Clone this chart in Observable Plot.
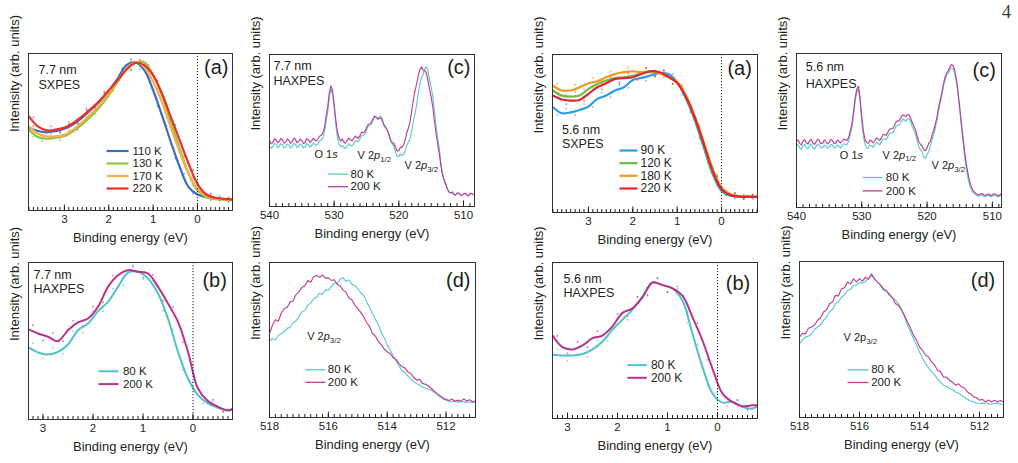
<!DOCTYPE html>
<html>
<head>
<meta charset="utf-8">
<script src="https://cdn.jsdelivr.net/npm/d3@7"></script>
<script src="https://cdn.jsdelivr.net/npm/@observablehq/plot@0.6"></script>
<style>
  body { margin: 0; background: #fff; }
  #fig { position: relative; width: 1018px; height: 463px; overflow: hidden; background: #fff; }
  #page { position: absolute; left: 1002px; top: 3px; font: 18px "Liberation Serif", "DejaVu Serif", serif; color: #3a3a3a; line-height: 1; }
</style>
</head>
<body>
<div id="fig"><div id="page">4</div></div>
<script>
// ---------- energies (eV) ----------
const eVal = [3.8, 3.6, 3.4, 3.2, 3.0, 2.8, 2.6, 2.4, 2.2, 2.0, 1.8, 1.6, 1.4, 1.2, 1.0, 0.8, 0.6, 0.4, 0.2, 0.0, -0.2, -0.4, -0.6, -0.8];
const eValRaw = [3.7, 3.5, 3.3, 3.1, 2.9, 2.7, 2.5, 2.3, 2.1, 1.9, 1.7, 1.5, 1.3, 1.1, 0.9, 0.7, 0.5, 0.3, 0.1, -0.1, -0.3, -0.5, -0.7];
const eValH = [3.3, 3.1, 2.9, 2.7, 2.5, 2.3, 2.1, 1.9, 1.7, 1.5, 1.3, 1.1, 0.9, 0.7, 0.5, 0.3, 0.1, -0.1, -0.3, -0.5, -0.7, -0.8];
const eValHRaw = [3.2, 3.0, 2.8, 2.6, 2.4, 2.2, 2.0, 1.8, 1.6, 1.4, 1.2, 1.0, 0.8, 0.6, 0.4, 0.2, 0.0, -0.2, -0.4, -0.6];
const eWide = [540, 539.5, 539, 538.5, 538, 537.5, 537, 536.5, 536, 535.5, 535, 534.5, 534, 533.5, 533, 532.5, 532, 531.5, 531, 530.5,
  530, 529.5, 529, 528.5, 528, 527.5, 527, 526.5, 526, 525.5, 525, 524.5, 524, 523.5, 523, 522.5, 522, 521.5, 521, 520.5,
  520, 519.5, 519, 518.5, 518, 517.5, 517, 516.5, 516, 515.5, 515, 514.5, 514, 513.5, 513, 512.5, 512, 511.5, 511, 510.5,
  510, 509.5, 509, 508.5];
const eWideMid = [539.75, 539.25, 538.75, 538.25, 537.75, 537.25, 536.75, 536.25, 535.75, 535.25, 534.75, 534.25, 533.75, 533.25, 532.75, 532.25,
  531.75, 531.25, 530.75, 530.25, 529.75, 529.25, 528.75, 528.25, 527.75, 527.25, 526.75, 526.25, 525.75, 525.25, 524.75, 524.25,
  523.75, 523.25, 522.75, 522.25, 521.75, 521.25, 520.75, 520.25, 519.75, 519.25, 518.75, 518.25, 517.75, 517.25, 516.75, 516.25,
  515.75, 515.25, 514.75, 514.25, 513.75, 513.25, 512.75, 512.25, 511.75, 511.25, 510.75, 510.25, 509.75, 509.25, 508.75];
const eV2p = [518.0, 517.9, 517.8, 517.7, 517.6, 517.5, 517.4, 517.3, 517.2, 517.1, 517.0, 516.9, 516.8, 516.7, 516.6, 516.5, 516.4, 516.3, 516.2, 516.1,
  516.0, 515.9, 515.8, 515.7, 515.6, 515.5, 515.4, 515.3, 515.2, 515.1, 515.0, 514.9, 514.8, 514.7, 514.6, 514.5, 514.4, 514.3, 514.2, 514.1,
  514.0, 513.9, 513.8, 513.7, 513.6, 513.5, 513.4, 513.3, 513.2, 513.1, 513.0, 512.9, 512.8, 512.7, 512.6, 512.5, 512.4, 512.3, 512.2, 512.1,
  512.0, 511.9, 511.8, 511.7, 511.6, 511.5, 511.4, 511.3, 511.2, 511.1, 511.0];

// ---------- 7.7 nm film ----------
// SXPES valence band: smoothed curves
const sx77_110K = [52.8, 50.6, 49.8, 50.6, 52.1, 54.9, 59.1, 64.3, 69.8, 76.2, 84.0, 92.6, 94.5, 89.4, 76.6, 60.6, 43.6, 27.7, 14.9, 10.2, 8.5, 7.7, 7.2, 6.8];
const sx77_130K = [51.5, 46.8, 45.7, 46.4, 47.4, 50.6, 54.9, 60.0, 66.0, 73.4, 81.9, 89.8, 94.0, 94.5, 86.2, 73.4, 56.4, 39.4, 23.4, 12.8, 8.5, 7.2, 6.8, 6.4];
const sx77_170K = [53.6, 48.9, 47.2, 47.2, 48.3, 51.5, 56.2, 61.7, 67.4, 74.5, 82.6, 90.2, 94.5, 91.5, 81.9, 69.1, 52.8, 37.2, 23.4, 13.8, 9.4, 7.7, 7.0, 6.6];
const sx77_220K = [60.0, 53.6, 51.0, 51.5, 52.8, 55.7, 60.0, 64.9, 70.2, 76.6, 83.0, 89.8, 94.0, 92.6, 86.2, 74.5, 59.6, 44.7, 29.8, 17.0, 10.2, 8.1, 7.4, 7.0];
// SXPES valence band: raw points
const sx77_110K_raw = [53.9, 48.1, 51.5, 49.6, 55.2, 55.3, 63.9, 65.0, 74.8, 78.0, 90.5, 96.4, 90.1, 85.2, 66.3, 54.0, 33.2, 23.5, 10.9, 11.3, 6.9, 9.0, 5.8];
const sx77_130K_raw = [47.0, 44.1, 48.3, 44.8, 50.9, 51.0, 59.6, 61.2, 71.8, 75.9, 88.0, 95.3, 92.1, 92.8, 77.5, 67.2, 45.6, 33.8, 15.9, 12.6, 6.3, 8.4, 5.5];
const sx77_170K_raw = [53.4, 46.0, 49.5, 45.9, 52.0, 52.1, 61.3, 62.7, 73.2, 76.4, 88.9, 90.1, 95.5, 84.4, 77.8, 58.9, 47.2, 28.1, 20.7, 9.8, 10.2, 6.1, 8.0];
const sx77_220K_raw = [59.3, 50.0, 53.6, 50.1, 56.5, 55.6, 64.9, 65.3, 75.7, 77.4, 88.7, 89.5, 96.0, 87.0, 82.8, 64.8, 54.6, 35.0, 25.7, 11.5, 10.9, 6.4, 8.3];
// HAXPES valence band: smoothed curves and raw points
const hx77_80K = [46.3, 42.7, 41.4, 43.1, 47.8, 56.9, 61.1, 69.0, 74.9, 84.5, 93.6, 94.1, 89.8, 80.3, 64.3, 43.1, 26.1, 15.5, 10.2, 7.4, 5.7, 6.6];
const hx77_200K = [57.5, 54.8, 52.7, 49.9, 56.9, 61.8, 64.3, 71.8, 84.5, 91.9, 95.1, 94.1, 93.0, 84.5, 73.9, 62.2, 43.1, 19.7, 11.7, 8.1, 5.9, 7.0];
const hx77_80K_raw = [48.6, 38.9, 45.7, 41.8, 56.3, 55.1, 68.9, 69.0, 83.4, 85.5, 97.0, 89.2, 88.4, 69.1, 57.2, 31.4, 23.9, 10.3, 11.6, 4.8];
const hx77_200K_raw = [60.1, 50.4, 55.0, 49.9, 63.0, 59.8, 71.9, 74.6, 91.7, 90.2, 98.0, 90.5, 92.1, 75.8, 71.6, 49.3, 34.9, 12.5, 12.7, 5.1];
// HAXPES O 1s / V 2p core levels (half-eV points and the points between them)
const cl77_80K = [40.2, 39.1, 40.8, 39.6, 40.5, 39.0, 40.3, 39.4, 40.9, 39.5, 40.2, 39.2, 40.6, 40.0, 40.8, 41.4, 43.8, 48.9, 62.0, 77.2,
  65.0, 45.3, 39.4, 38.8, 39.6, 40.2, 41.2, 42.9, 44.6, 46.8, 50.1, 53.4, 56.6, 58.8, 59.3, 56.7, 52.3, 46.4, 41.0, 35.7,
  32.8, 33.6, 36.9, 42.4, 50.0, 60.9, 74.2, 85.0, 90.4, 89.6, 78.5, 63.2, 45.2, 29.0, 18.1, 11.4, 8.7, 8.0, 8.5, 7.9,
  8.3, 7.6, 8.2, 7.8];
const cl77_80K_mid = [38.3, 41.6, 38.8, 41.4, 38.6, 41.1, 38.5, 41.5, 38.9, 41.2, 38.6, 41.3, 39.1, 41.7, 40.2, 43.0,
  45.1, 55.9, 71.8, 74.0, 53.8, 41.1, 40.2, 38.0, 41.3, 39.8, 43.2, 42.6, 46.7, 47.5, 52.8, 54.1,
  58.9, 57.6, 59.2, 53.5, 50.1, 42.8, 39.2, 33.1, 34.5, 34.2, 40.6, 45.0, 56.3, 66.9, 80.8, 86.6,
  91.8, 83.0, 72.4, 53.1, 38.4, 22.0, 15.5, 9.4, 9.2, 7.3, 8.9, 7.2, 8.6, 7.1, 8.5];
const cl77_200K = [43.5, 42.0, 44.1, 42.8, 43.9, 42.3, 43.6, 42.5, 44.2, 42.9, 43.4, 42.1, 44.0, 43.1, 43.9, 44.6, 46.8, 52.0, 65.5, 79.4,
  67.2, 49.5, 43.0, 42.4, 43.5, 43.9, 44.6, 45.3, 46.8, 48.6, 51.8, 54.5, 57.6, 58.9, 58.0, 55.6, 51.5, 46.9, 42.1, 38.7,
  36.9, 38.9, 44.3, 51.9, 63.1, 76.0, 86.0, 91.8, 89.4, 83.0, 71.9, 56.4, 41.3, 26.9, 17.0, 11.5, 9.0, 8.1, 8.9, 7.6,
  8.4, 7.5, 8.6, 7.9];
const cl77_200K_mid = [41.2, 44.6, 41.9, 44.8, 41.7, 44.5, 41.6, 44.9, 41.9, 44.3, 41.5, 44.6, 42.2, 44.8, 43.1, 46.2,
  48.4, 59.5, 74.6, 76.3, 57.1, 45.2, 44.4, 41.6, 45.0, 43.2, 46.3, 45.0, 48.9, 49.2, 54.0, 55.3,
  59.6, 57.4, 58.3, 52.9, 50.0, 43.6, 41.3, 36.5, 38.9, 40.6, 48.7, 56.2, 70.4, 80.6, 90.3, 89.6,
  88.1, 77.0, 65.3, 48.2, 34.8, 20.8, 14.6, 9.7, 9.6, 7.4, 8.9, 7.1, 8.7, 7.0, 8.6];
// HAXPES V 2p3/2 detail
const v2p77_80K = [49.2, 51.0, 50.1, 52.9, 54.0, 55.3, 57.5, 58.2, 61.0, 62.4, 64.9, 68.2, 69.0, 72.5, 73.8, 76.8, 77.5, 80.2, 79.4, 82.6,
  82.2, 84.5, 86.9, 86.2, 89.3, 90.1, 88.0, 88.7, 85.9, 85.1, 83.2, 80.5, 78.9, 74.6, 71.2, 67.1, 63.4, 59.9, 54.8, 51.2,
  46.7, 43.5, 39.8, 36.6, 33.0, 30.5, 28.9, 26.8, 25.1, 23.0, 21.9, 21.0, 19.5, 19.0, 18.2, 17.6, 16.1, 15.0, 13.2, 12.0,
  11.2, 10.4, 10.0, 10.6, 9.9, 10.1, 10.3, 9.6, 10.2, 9.5, 9.7];
const v2p77_200K = [54.2, 59.5, 63.0, 62.1, 67.4, 70.3, 71.0, 74.6, 75.2, 79.3, 81.1, 83.8, 85.0, 88.4, 87.3, 90.8, 91.6, 90.4, 91.9, 89.9,
  90.1, 88.5, 88.9, 86.0, 84.9, 82.2, 80.8, 77.1, 76.0, 72.4, 70.3, 67.8, 65.0, 61.3, 58.6, 54.2, 52.5, 48.9, 47.0, 44.1,
  42.4, 41.3, 38.6, 37.5, 34.8, 32.7, 32.0, 29.3, 28.5, 25.8, 24.1, 24.6, 22.0, 21.4, 20.3, 18.7, 17.0, 15.2, 14.1, 12.5,
  11.8, 11.0, 11.9, 10.3, 11.2, 10.5, 12.0, 10.6, 11.4, 10.2, 10.8];

// ---------- 5.6 nm film ----------
const sx56_90K = [66.6, 62.8, 63.4, 64.9, 67.0, 71.9, 74.0, 77.2, 79.3, 83.9, 85.2, 86.7, 88.2, 87.7, 82.5, 71.9, 58.1, 41.2, 24.3, 13.7, 10.6, 9.9, 9.9, 9.9];
const sx56_120K = [77.2, 74.0, 73.4, 74.0, 78.2, 81.4, 83.5, 85.0, 85.6, 86.5, 88.2, 88.8, 88.2, 86.0, 82.5, 72.9, 59.2, 42.3, 25.4, 14.8, 11.2, 10.4, 10.1, 9.9];
const sx56_180K = [80.3, 77.2, 77.2, 79.3, 81.8, 83.1, 85.6, 87.7, 88.8, 89.4, 88.8, 89.4, 88.2, 85.6, 82.5, 74.0, 60.7, 44.4, 27.5, 15.9, 11.6, 10.4, 9.9, 9.9];
const sx56_220K = [74.0, 71.5, 70.8, 71.2, 75.1, 79.3, 81.8, 84.6, 85.0, 85.6, 87.7, 89.4, 88.8, 86.0, 82.0, 72.9, 59.8, 43.3, 26.4, 14.8, 11.0, 10.1, 9.9, 9.9];
const sx56_90K_raw = [61.9, 65.8, 61.5, 68.7, 66.8, 75.9, 72.9, 81.0, 79.0, 87.3, 83.3, 90.1, 85.6, 87.8, 74.6, 67.4, 47.0, 35.2, 16.8, 13.9, 8.9, 11.3, 8.7];
const sx56_120K_raw = [78.4, 71.0, 76.5, 73.4, 82.6, 79.7, 87.1, 82.5, 88.9, 84.6, 91.3, 85.8, 89.9, 81.6, 80.4, 63.4, 53.5, 31.2, 22.8, 11.3, 12.4, 8.8, 11.4];
const sx56_180K_raw = [81.5, 74.6, 80.9, 77.9, 85.1, 81.8, 89.3, 85.7, 91.8, 86.5, 91.7, 86.2, 89.5, 81.5, 80.9, 64.8, 55.2, 33.4, 24.3, 12.1, 12.6, 8.7, 11.2];
const sx56_220K_raw = [75.5, 68.6, 73.6, 70.5, 79.9, 77.9, 85.8, 82.1, 88.0, 84.0, 91.3, 86.4, 90.1, 81.3, 79.8, 63.7, 54.3, 32.2, 23.0, 11.0, 12.1, 8.6, 11.3];
const hx56_80K = [40.9, 40.4, 40.4, 41.3, 44.3, 49.4, 57.0, 63.4, 69.8, 78.3, 87.2, 85.5, 83.4, 75.5, 54.3, 33.0, 16.0, 10.2, 10.6, 7.4, 6.4, 8.1];
const hx56_200K = [53.2, 45.7, 44.3, 46.8, 51.5, 53.2, 59.1, 67.7, 70.6, 77.7, 87.2, 85.5, 83.4, 78.7, 64.9, 50.0, 31.9, 16.0, 10.6, 7.9, 8.5, 8.5];
const hx56_80K_raw = [44.2, 37.1, 44.6, 39.5, 50.5, 49.8, 63.9, 63.3, 77.8, 79.4, 90.0, 81.1, 83.1, 61.5, 47.4, 21.2, 16.5, 7.8, 11.6, 4.9];
const hx56_200K_raw = [53.0, 41.8, 49.2, 45.7, 56.0, 52.6, 67.1, 65.6, 78.0, 78.8, 89.9, 81.0, 84.7, 68.2, 61.3, 37.6, 27.4, 10.6, 11.9, 6.0];
const cl56_80K = [39.9, 38.6, 40.3, 39.0, 40.4, 38.8, 39.7, 40.5, 38.9, 39.9, 39.2, 40.6, 38.8, 40.0, 40.2, 40.9, 43.5, 51.7, 69.6, 76.5,
  55.4, 40.9, 38.7, 40.2, 40.9, 41.7, 42.8, 44.6, 46.1, 48.3, 50.4, 53.3, 55.4, 57.0, 57.4, 55.4, 50.0, 43.0, 37.4, 32.6,
  34.3, 39.6, 47.4, 56.5, 67.4, 78.3, 85.9, 89.6, 90.0, 81.5, 63.0, 42.4, 25.0, 14.8, 9.8, 8.3, 7.5, 8.0, 7.2, 7.9,
  7.3, 8.1, 7.1, 7.7];
const cl56_80K_mid = [40.8, 37.7, 41.0, 38.2, 41.1, 38.0, 41.2, 38.6, 40.5, 38.4, 41.0, 38.7, 40.6, 38.6, 41.5, 40.8,
  47.9, 60.3, 74.9, 68.0, 46.2, 38.5, 40.6, 39.1, 42.3, 40.6, 44.5, 44.0, 48.1, 48.6, 52.8, 53.6,
  57.2, 55.9, 57.5, 52.1, 47.4, 39.2, 36.0, 32.1, 36.3, 43.9, 51.3, 62.5, 72.3, 83.1, 87.2, 90.8,
  86.6, 73.1, 52.9, 33.2, 19.4, 12.1, 9.2, 7.5, 8.2, 7.0, 7.9, 6.9, 8.0, 7.0, 7.9];
const cl56_200K = [42.8, 41.5, 43.2, 42.0, 43.5, 41.9, 42.6, 43.4, 41.8, 42.9, 42.2, 43.6, 41.7, 43.0, 43.0, 43.9, 45.7, 54.3, 71.7, 78.7,
  58.7, 43.9, 41.7, 43.0, 43.5, 44.6, 45.2, 47.4, 48.9, 51.1, 53.3, 56.1, 58.3, 59.8, 60.4, 57.6, 52.6, 46.1, 40.9, 37.4,
  38.7, 43.0, 50.0, 58.3, 69.6, 80.0, 87.4, 91.3, 92.2, 83.0, 65.2, 45.7, 28.7, 17.4, 11.3, 9.1, 8.3, 8.9, 7.9, 8.6,
  8.0, 8.8, 7.8, 8.4];
const cl56_200K_mid = [43.9, 40.7, 44.1, 41.3, 44.2, 41.0, 44.3, 41.4, 43.9, 41.2, 44.3, 41.6, 43.8, 41.9, 44.5, 43.6,
  50.3, 62.9, 77.0, 70.5, 49.6, 42.0, 43.8, 41.9, 45.2, 43.6, 47.4, 46.8, 50.9, 51.3, 55.6, 56.4,
  60.2, 59.0, 60.1, 54.9, 50.3, 42.7, 39.8, 36.9, 41.6, 47.0, 53.9, 64.8, 74.4, 84.6, 88.8, 92.9,
  88.8, 75.2, 55.0, 36.8, 22.4, 14.0, 10.1, 8.2, 9.0, 8.0, 8.7, 7.8, 8.9, 7.7, 8.6];
const v2p56_80K = [47.3, 49.8, 51.6, 52.1, 53.7, 56.4, 58.0, 59.5, 62.3, 64.4, 67.6, 69.3, 72.9, 74.2, 77.2, 78.6, 81.4, 82.1, 84.6, 84.9,
  86.8, 86.0, 87.2, 89.5, 91.0, 88.4, 86.8, 84.7, 81.4, 80.9, 79.3, 77.0, 75.1, 72.8, 69.7, 64.6, 59.1, 54.9, 50.5, 46.4,
  42.0, 38.0, 34.5, 31.9, 29.2, 27.3, 24.9, 22.6, 20.7, 19.9, 18.6, 17.8, 16.4, 15.6, 14.3, 13.0, 11.7, 10.6, 10.0, 9.3,
  9.0, 9.4, 9.0, 8.7, 8.5, 9.2, 9.0, 8.4, 8.5, 8.9, 8.6];
const v2p56_200K = [51.6, 53.9, 53.7, 57.2, 58.0, 59.1, 62.3, 63.8, 67.6, 69.0, 72.9, 74.1, 78.3, 78.0, 82.5, 83.1, 86.8, 85.6, 88.9, 86.9,
  88.9, 87.4, 90.0, 88.6, 92.1, 89.1, 86.8, 85.0, 82.5, 81.2, 78.3, 76.7, 72.9, 71.9, 68.7, 65.4, 61.2, 57.3, 52.7, 49.6,
  45.2, 43.1, 39.9, 38.9, 35.6, 33.7, 30.3, 29.4, 26.0, 25.8, 23.9, 22.6, 20.7, 21.6, 19.6, 18.9, 16.4, 15.3, 13.2, 12.8,
  11.1, 11.6, 10.0, 11.2, 10.0, 11.0, 10.0, 10.9, 10.0, 10.6, 10.2];

// ---------- tick labels and legend text ----------
const ticksValence = [3, 2, 1, 0];
const ticksWide = [540, 530, 520, 510];
const ticksV2p = [518, 516, 514, 512];
const temps77 = ["110 K", "130 K", "170 K", "220 K"];
const temps56 = ["90 K", "120 K", "180 K", "220 K"];
const tempsHx = ["80 K", "200 K"];
const xTitle = "Binding energy (eV)";
const yTitleSX = "Intenisity (arb. units)";
const yTitle = "Intensity (arb. units)";

// ---------- styling ----------
const ink = "#231f20";
const font = "'Liberation Sans', Arial, Helvetica, sans-serif";
const col77 = ["#3b6cc0", "#8cc63f", "#f8ad50", "#e8322b"];
const col56 = ["#2b9de1", "#6bbb45", "#f7961e", "#e3262c"];
const cyan = "#5ec8d1", magenta = "#bf3f98";
const cyanB = "#4fc3cc", magentaB = "#b8338e";
const minorValence = d3.range(-8, 39).map(i => i / 10);
const minorWide = d3.range(508, 541);
const minorV2p = d3.range(5110, 5182, 2).map(i => i / 10);

// interleave two sampled series into one, ordered by decreasing energy
function interleave(g1, v1, g2, v2) {
  const pts = g1.map((e, i) => [e, v1[i]]).concat(g2.map((e, i) => [e, v2[i]]));
  pts.sort((a, b) => b[0] - a[0]);
  return {grid: pts.map(d => d[0]), values: pts.map(d => d[1])};
}

const sxLines = (grid, sets, colors) => sets.map((v, i) => ({grid, values: v, color: colors[i], width: 2.2, curve: "catmull-rom"}));
const rawDots = (grid, sets, colors) => sets.map((v, i) => ({grid, values: v, color: colors[i]}));
const hxLines = (grid, v80, v200) => [
  {grid, values: v80, color: cyanB, width: 2, curve: "catmull-rom"},
  {grid, values: v200, color: magentaB, width: 2, curve: "catmull-rom"}
];
const clLines = (s80, s200) => [
  {...s80, color: cyan, width: 1.15},
  {...s200, color: magenta, width: 1.15}
];

const panels = [
  { // 7.7 nm SXPES
    left: 28, top: 53, w: 204, h: 157, x: [3.81, -0.79], zero: true,
    minor: minorValence, major: ticksValence, yTitle: yTitleSX,
    dots: rawDots(eValRaw, [sx77_110K_raw, sx77_130K_raw, sx77_170K_raw, sx77_220K_raw], col77),
    lines: sxLines(eVal, [sx77_110K, sx77_130K, sx77_170K, sx77_220K], col77),
    notes: [
      {text: "7.7 nm", px: 10, py: 16, size: 12.5},
      {text: "SXPES", px: 10, py: 31, size: 12.5},
      {text: "(a)", px: 200, py: 14, size: 20, anchor: "end"}
    ],
    legend: {x0: 78, x1: 100, tx: 104, rows: [97.5, 110, 122.5, 135], size: 11.5, labels: temps77, colors: col77, width: 2.2}
  },
  { // 7.7 nm HAXPES core levels
    left: 269, top: 54, w: 205, h: 152, x: [540, 508.3], zero: false,
    minor: minorWide, major: ticksWide, yTitle,
    dots: [],
    lines: clLines(interleave(eWide, cl77_80K, eWideMid, cl77_80K_mid), interleave(eWide, cl77_200K, eWideMid, cl77_200K_mid)),
    notes: [
      {text: "7.7 nm", px: 4, py: 11, size: 12.5},
      {text: "HAXPES", px: 4, py: 26, size: 12.5},
      {text: "(c)", px: 201, py: 13.5, size: 20, anchor: "end"},
      {text: "O 1*s*", px: 45, py: 100, size: 11},
      {text: "V 2*p*_{1/2}", px: 88, py: 101, size: 11},
      {text: "V 2*p*_{3/2}", px: 135, py: 111, size: 11}
    ],
    legend: {x0: 58.6, x1: 78.6, tx: 81, rows: [119.6, 132.2], size: 11.5, labels: tempsHx, colors: [cyan, magenta], width: 1.3}
  },
  { // 7.7 nm HAXPES valence band
    left: 28, top: 262, w: 204, h: 157, x: [3.29, -0.79], zero: true,
    minor: minorValence, major: ticksValence, yTitle,
    dots: rawDots(eValHRaw, [hx77_80K_raw, hx77_200K_raw], [cyanB, magentaB]),
    lines: hxLines(eValH, hx77_80K, hx77_200K),
    notes: [
      {text: "7.7 nm", px: 5, py: 12.7, size: 12.5},
      {text: "HAXPES", px: 5, py: 26, size: 12.5},
      {text: "(b)", px: 198.4, py: 17.7, size: 20, anchor: "end"}
    ],
    legend: {x0: 70, x1: 90, tx: 94.4, rows: [108.8, 121.6], size: 11.5, labels: tempsHx, colors: [cyanB, magentaB], width: 2}
  },
  { // 7.7 nm V 2p3/2
    left: 269, top: 262, w: 206, h: 155, x: [518, 511], zero: false,
    minor: minorV2p, major: ticksV2p, yTitle,
    dots: [],
    lines: clLines({grid: eV2p, values: v2p77_80K}, {grid: eV2p, values: v2p77_200K}),
    notes: [
      {text: "(d)", px: 201, py: 17.7, size: 20, anchor: "end"},
      {text: "V 2*p*_{3/2}", px: 37.7, py: 74.4, size: 11}
    ],
    legend: {x0: 36, x1: 56, tx: 58.3, rows: [107.2, 119.8], size: 11.5, labels: tempsHx, colors: [cyan, magenta], width: 1.3}
  },
  { // 5.6 nm SXPES
    left: 552, top: 54, w: 205, h: 158, x: [3.81, -0.81], zero: true,
    minor: minorValence, major: ticksValence, yTitle: yTitleSX,
    dots: rawDots(eValRaw, [sx56_90K_raw, sx56_120K_raw, sx56_180K_raw, sx56_220K_raw], col56),
    lines: sxLines(eVal, [sx56_90K, sx56_120K, sx56_180K, sx56_220K], col56),
    notes: [
      {text: "(a)", px: 199.4, py: 14.3, size: 20, anchor: "end"},
      {text: "5.6 nm", px: 9.4, py: 75, size: 12.5},
      {text: "SXPES", px: 9.4, py: 89, size: 12.5}
    ],
    legend: {x0: 67, x1: 85, tx: 88, rows: [96, 108.7, 121.3, 134], size: 12, labels: temps56, colors: col56, width: 2.2}
  },
  { // 5.6 nm HAXPES core levels
    left: 796, top: 53, w: 205, h: 154, x: [540, 508.6], zero: false,
    minor: minorWide, major: ticksWide, yTitle,
    dots: [],
    lines: clLines(interleave(eWide, cl56_80K, eWideMid, cl56_80K_mid), interleave(eWide, cl56_200K, eWideMid, cl56_200K_mid)),
    notes: [
      {text: "5.6 nm", px: 9.3, py: 13.4, size: 12.5},
      {text: "HAXPES", px: 9.3, py: 30, size: 12.5},
      {text: "(c)", px: 199.3, py: 17.5, size: 20, anchor: "end"},
      {text: "O 1*s*", px: 43.3, py: 102.4, size: 11},
      {text: "V 2*p*_{1/2}", px: 86, py: 101.7, size: 11},
      {text: "V 2*p*_{3/2}", px: 135, py: 112, size: 11}
    ],
    legend: {x0: 66, x1: 86, tx: 89.3, rows: [124, 137.4], size: 11.5, labels: tempsHx, colors: [cyan, magenta], width: 1.3}
  },
  { // 5.6 nm HAXPES valence band
    left: 552, top: 262, w: 205, h: 156, x: [3.3, -0.8], zero: true,
    minor: minorValence, major: ticksValence, yTitle,
    dots: rawDots(eValHRaw, [hx56_80K_raw, hx56_200K_raw], [cyanB, magentaB]),
    lines: hxLines(eValH, hx56_80K, hx56_200K),
    notes: [
      {text: "5.6 nm", px: 11, py: 16.6, size: 12.5},
      {text: "HAXPES", px: 11, py: 30, size: 12.5},
      {text: "(b)", px: 197.7, py: 20.8, size: 20, anchor: "end"}
    ],
    legend: {x0: 75, x1: 94.4, tx: 98.4, rows: [102.6, 115.3], size: 12, labels: tempsHx, colors: [cyanB, magentaB], width: 2}
  },
  { // 5.6 nm V 2p3/2
    left: 799, top: 261, w: 204, h: 156, x: [518, 511.2], zero: false,
    minor: minorV2p, major: ticksV2p, yTitle,
    dots: [],
    lines: clLines({grid: eV2p, values: v2p56_80K}, {grid: eV2p, values: v2p56_200K}),
    notes: [
      {text: "(d)", px: 195.7, py: 19, size: 20, anchor: "end"},
      {text: "V 2p_{3/2}", px: 44, py: 76, size: 11}
    ],
    legend: {x0: 48, x1: 69, tx: 71.7, rows: [108.3, 121], size: 11.5, labels: tempsHx, colors: [cyan, magenta], width: 1.3}
  }
];

// turn *italic* and _{sub} markup into tspans
function richText(svg) {
  svg.querySelectorAll("text").forEach(t => {
    const s = t.textContent;
    if (!/[*_]/.test(s)) return;
    t.textContent = "";
    const re = /\*([^*]+)\*|_\{([^}]+)\}|([^*_]+)/g;
    let m;
    while ((m = re.exec(s))) {
      const ts = document.createElementNS("http://www.w3.org/2000/svg", "tspan");
      if (m[1]) { ts.textContent = m[1]; ts.setAttribute("font-style", "italic"); }
      else if (m[2]) { ts.textContent = m[2]; ts.setAttribute("font-size", "0.72em"); ts.setAttribute("dy", "0.35em"); }
      else ts.textContent = m[3];
      t.appendChild(ts);
    }
  });
}

const M = {l: 34, r: 8, t: 6, b: 46};
const fig = document.getElementById("fig");

for (const p of panels) {
  const [x0, x1] = p.x;
  const X = px => x0 + (x1 - x0) * px / p.w;
  const Y = py => 100 - 100 * py / p.h;
  const lo = Math.min(x0, x1) - 1e-9, hi = Math.max(x0, x1) + 1e-9;
  const inside = v => v >= lo && v <= hi;
  const marks = [];

  for (const s of p.dots) {
    marks.push(Plot.dot(s.values, {
      x: (d, i) => s.grid[i], y: d => d, r: 0.9,
      fill: s.color, fillOpacity: 0.7, stroke: null, clip: true
    }));
  }
  for (const s of p.lines) {
    marks.push(Plot.line(s.values, {
      x: (d, i) => s.grid[i], y: d => d,
      stroke: s.color, strokeWidth: s.width, curve: s.curve || "linear",
      strokeLinejoin: "round", clip: true
    }));
  }
  if (p.zero) marks.push(Plot.ruleX([0], {stroke: ink, strokeWidth: 1, strokeDasharray: "1.2,1.8"}));
  marks.push(Plot.frame({stroke: "#333", strokeWidth: 1}));
  marks.push(Plot.tickX(p.minor.filter(inside), {x: d => d, insetTop: p.h - 3, stroke: ink, strokeWidth: 1}));
  marks.push(Plot.tickX(p.major.filter(inside), {x: d => d, insetTop: p.h - 5.5, stroke: ink, strokeWidth: 1}));
  marks.push(Plot.text(p.major, {x: d => d, frameAnchor: "bottom", dy: 12, text: d => String(d), fontSize: 11.5, fill: ink}));
  marks.push(Plot.text([xTitle], {frameAnchor: "bottom", dy: 31, text: d => d, fontSize: 13, fill: ink}));
  marks.push(Plot.text([p.yTitle], {frameAnchor: "left", dx: -14, rotate: -90, text: d => d, fontSize: 13, fill: ink}));

  for (const n of p.notes) {
    marks.push(Plot.text([n.text], {x: X(n.px), y: Y(n.py), text: d => d, textAnchor: n.anchor || "start", fontSize: n.size, fill: ink}));
  }
  const L = p.legend;
  L.labels.forEach((lab, i) => {
    marks.push(Plot.link([lab], {x1: X(L.x0), x2: X(L.x1), y1: Y(L.rows[i]), y2: Y(L.rows[i]), stroke: L.colors[i], strokeWidth: L.width}));
    marks.push(Plot.text([lab], {x: X(L.tx), y: Y(L.rows[i]), text: d => d, textAnchor: "start", fontSize: L.size, fill: ink}));
  });

  const svg = Plot.plot({
    width: p.w + M.l + M.r,
    height: p.h + M.t + M.b,
    marginLeft: M.l, marginRight: M.r, marginTop: M.t, marginBottom: M.b,
    x: {domain: p.x, axis: null},
    y: {domain: [0, 100], axis: null},
    style: {
      position: "absolute", left: (p.left - M.l) + "px", top: (p.top - M.t) + "px",
      background: "none", overflow: "visible", fontFamily: font, color: ink, maxWidth: "none"
    },
    marks
  });
  richText(svg);
  fig.appendChild(svg);
}
</script>
</body>
</html>
